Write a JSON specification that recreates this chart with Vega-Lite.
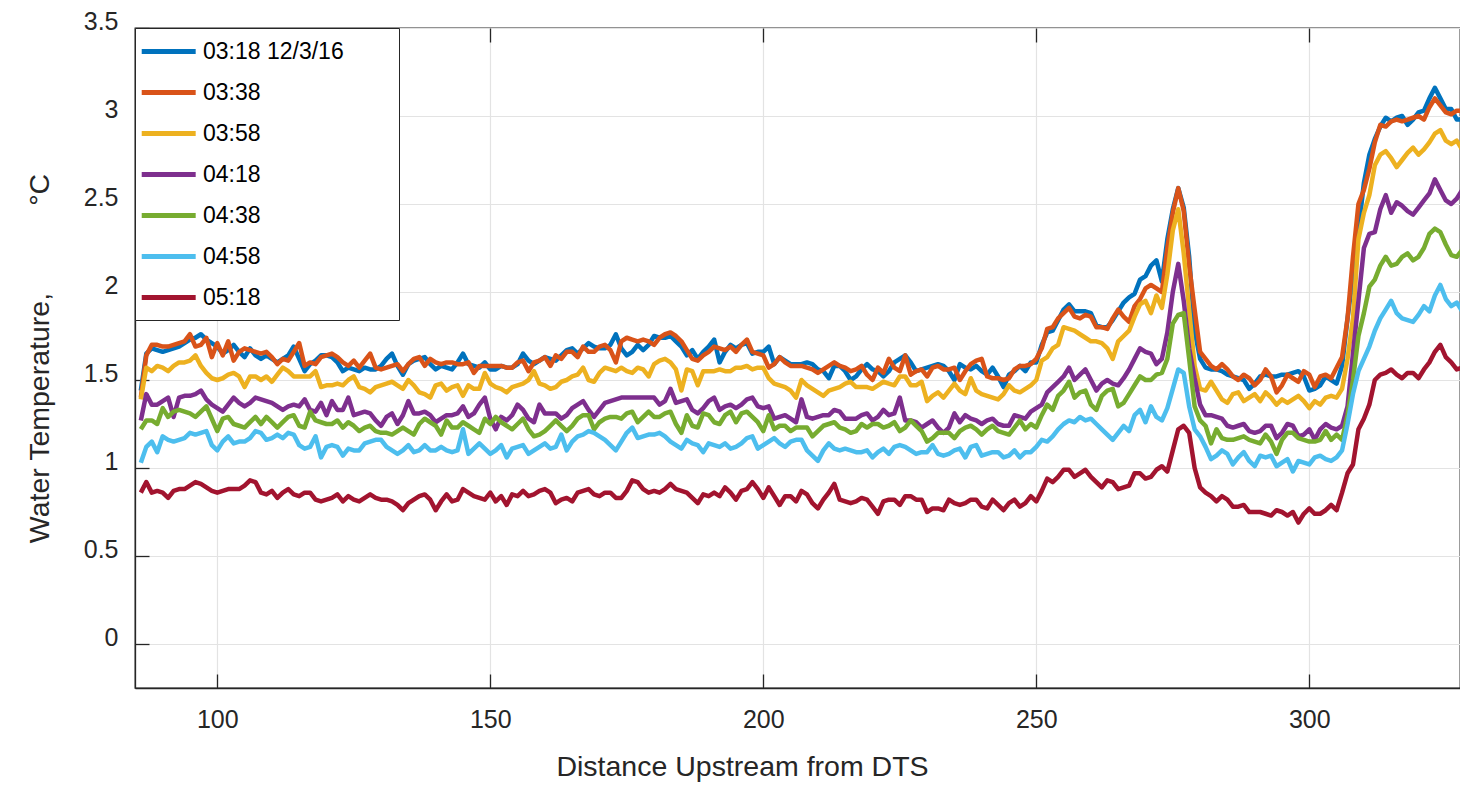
{
"$schema":"https://vega.github.io/schema/vega-lite/v6.json",
"width":1325,"height":660,
"autosize":{"type":"none"},
"padding":{"left":135,"top":28,"right":0,"bottom":97},
"background":"white",
"config":{
 "font":"Liberation Sans",
 "view":{"stroke":"#262626","strokeWidth":1.3},
 "axis":{"domainColor":"#262626","domainWidth":1.3,"tickColor":"#262626","tickWidth":1.3,"labelColor":"#262626","labelFont":"Liberation Sans","labelFontSize":25,"titleFont":"Liberation Sans","titleFontSize":28.5,"titleFontWeight":"normal","titleColor":"#262626","gridColor":"#e3e3e3","gridWidth":1.2}
},
"data":{"values":[
{"x":86,"a":1.44,"b":1.40,"c":1.39,"d":1.27,"e":1.22,"f":1.03,"g":0.86},
{"x":87,"a":1.65,"b":1.64,"c":1.57,"d":1.42,"e":1.27,"f":1.12,"g":0.92},
{"x":88,"a":1.68,"b":1.70,"c":1.55,"d":1.36,"e":1.27,"f":1.15,"g":0.86},
{"x":89,"a":1.67,"b":1.70,"c":1.58,"d":1.36,"e":1.25,"f":1.09,"g":0.87},
{"x":90,"a":1.66,"b":1.69,"c":1.57,"d":1.38,"e":1.34,"f":1.18,"g":0.86},
{"x":91,"a":1.67,"b":1.69,"c":1.55,"d":1.40,"e":1.29,"f":1.16,"g":0.83},
{"x":92,"a":1.68,"b":1.70,"c":1.58,"d":1.29,"e":1.32,"f":1.15,"g":0.87},
{"x":93,"a":1.69,"b":1.71,"c":1.60,"d":1.40,"e":1.33,"f":1.16,"g":0.88},
{"x":94,"a":1.71,"b":1.72,"c":1.60,"d":1.41,"e":1.32,"f":1.17,"g":0.88},
{"x":95,"a":1.73,"b":1.76,"c":1.61,"d":1.41,"e":1.31,"f":1.20,"g":0.90},
{"x":96,"a":1.74,"b":1.69,"c":1.64,"d":1.42,"e":1.29,"f":1.19,"g":0.92},
{"x":97,"a":1.76,"b":1.70,"c":1.58,"d":1.44,"e":1.32,"f":1.20,"g":0.91},
{"x":98,"a":1.73,"b":1.74,"c":1.54,"d":1.39,"e":1.35,"f":1.21,"g":0.89},
{"x":99,"a":1.71,"b":1.63,"c":1.51,"d":1.36,"e":1.28,"f":1.13,"g":0.87},
{"x":100,"a":1.69,"b":1.71,"c":1.50,"d":1.34,"e":1.21,"f":1.10,"g":0.86},
{"x":101,"a":1.65,"b":1.64,"c":1.51,"d":1.32,"e":1.28,"f":1.15,"g":0.87},
{"x":102,"a":1.67,"b":1.72,"c":1.53,"d":1.36,"e":1.29,"f":1.18,"g":0.88},
{"x":103,"a":1.70,"b":1.61,"c":1.54,"d":1.40,"e":1.25,"f":1.14,"g":0.88},
{"x":104,"a":1.66,"b":1.66,"c":1.52,"d":1.37,"e":1.24,"f":1.15,"g":0.88},
{"x":105,"a":1.63,"b":1.68,"c":1.46,"d":1.35,"e":1.23,"f":1.15,"g":0.90},
{"x":106,"a":1.68,"b":1.67,"c":1.52,"d":1.37,"e":1.26,"f":1.17,"g":0.93},
{"x":107,"a":1.64,"b":1.66,"c":1.52,"d":1.40,"e":1.29,"f":1.21,"g":0.92},
{"x":108,"a":1.62,"b":1.65,"c":1.50,"d":1.39,"e":1.25,"f":1.20,"g":0.86},
{"x":109,"a":1.64,"b":1.66,"c":1.52,"d":1.38,"e":1.29,"f":1.16,"g":0.85},
{"x":110,"a":1.62,"b":1.63,"c":1.49,"d":1.37,"e":1.26,"f":1.17,"g":0.87},
{"x":111,"a":1.60,"b":1.59,"c":1.53,"d":1.35,"e":1.23,"f":1.19,"g":0.83},
{"x":112,"a":1.62,"b":1.62,"c":1.57,"d":1.33,"e":1.26,"f":1.17,"g":0.86},
{"x":113,"a":1.64,"b":1.61,"c":1.55,"d":1.35,"e":1.29,"f":1.20,"g":0.88},
{"x":114,"a":1.69,"b":1.66,"c":1.52,"d":1.36,"e":1.30,"f":1.19,"g":0.85},
{"x":115,"a":1.62,"b":1.71,"c":1.52,"d":1.35,"e":1.24,"f":1.13,"g":0.84},
{"x":116,"a":1.55,"b":1.58,"c":1.52,"d":1.39,"e":1.23,"f":1.11,"g":0.86},
{"x":117,"a":1.59,"b":1.60,"c":1.52,"d":1.33,"e":1.32,"f":1.12,"g":0.86},
{"x":118,"a":1.61,"b":1.59,"c":1.55,"d":1.32,"e":1.27,"f":1.18,"g":0.82},
{"x":119,"a":1.64,"b":1.63,"c":1.46,"d":1.37,"e":1.26,"f":1.06,"g":0.81},
{"x":120,"a":1.64,"b":1.64,"c":1.47,"d":1.30,"e":1.25,"f":1.12,"g":0.82},
{"x":121,"a":1.63,"b":1.65,"c":1.47,"d":1.38,"e":1.25,"f":1.13,"g":0.83},
{"x":122,"a":1.60,"b":1.63,"c":1.48,"d":1.33,"e":1.27,"f":1.12,"g":0.85},
{"x":123,"a":1.55,"b":1.60,"c":1.47,"d":1.33,"e":1.23,"f":1.07,"g":0.81},
{"x":124,"a":1.57,"b":1.58,"c":1.50,"d":1.40,"e":1.26,"f":1.11,"g":0.84},
{"x":125,"a":1.56,"b":1.61,"c":1.52,"d":1.30,"e":1.24,"f":1.10,"g":0.82},
{"x":126,"a":1.55,"b":1.57,"c":1.46,"d":1.31,"e":1.21,"f":1.10,"g":0.81},
{"x":127,"a":1.57,"b":1.61,"c":1.45,"d":1.32,"e":1.23,"f":1.14,"g":0.83},
{"x":128,"a":1.56,"b":1.65,"c":1.43,"d":1.31,"e":1.24,"f":1.15,"g":0.85},
{"x":129,"a":1.56,"b":1.57,"c":1.46,"d":1.27,"e":1.21,"f":1.16,"g":0.83},
{"x":130,"a":1.58,"b":1.56,"c":1.47,"d":1.24,"e":1.20,"f":1.16,"g":0.82},
{"x":131,"a":1.62,"b":1.57,"c":1.48,"d":1.29,"e":1.20,"f":1.12,"g":0.82},
{"x":132,"a":1.65,"b":1.58,"c":1.49,"d":1.31,"e":1.19,"f":1.10,"g":0.81},
{"x":133,"a":1.58,"b":1.59,"c":1.47,"d":1.25,"e":1.21,"f":1.08,"g":0.79},
{"x":134,"a":1.53,"b":1.55,"c":1.45,"d":1.30,"e":1.23,"f":1.10,"g":0.76},
{"x":135,"a":1.59,"b":1.59,"c":1.50,"d":1.38,"e":1.21,"f":1.13,"g":0.80},
{"x":136,"a":1.61,"b":1.62,"c":1.47,"d":1.31,"e":1.19,"f":1.09,"g":0.82},
{"x":137,"a":1.62,"b":1.63,"c":1.43,"d":1.31,"e":1.25,"f":1.10,"g":0.84},
{"x":138,"a":1.63,"b":1.58,"c":1.42,"d":1.32,"e":1.28,"f":1.13,"g":0.85},
{"x":139,"a":1.59,"b":1.62,"c":1.40,"d":1.30,"e":1.26,"f":1.10,"g":0.82},
{"x":140,"a":1.56,"b":1.60,"c":1.47,"d":1.26,"e":1.24,"f":1.10,"g":0.76},
{"x":141,"a":1.58,"b":1.59,"c":1.48,"d":1.28,"e":1.19,"f":1.12,"g":0.81},
{"x":142,"a":1.57,"b":1.60,"c":1.44,"d":1.30,"e":1.27,"f":1.10,"g":0.85},
{"x":143,"a":1.56,"b":1.60,"c":1.46,"d":1.30,"e":1.23,"f":1.09,"g":0.81},
{"x":144,"a":1.60,"b":1.59,"c":1.47,"d":1.31,"e":1.23,"f":1.10,"g":0.82},
{"x":145,"a":1.65,"b":1.59,"c":1.41,"d":1.35,"e":1.26,"f":1.22,"g":0.88},
{"x":146,"a":1.59,"b":1.60,"c":1.47,"d":1.29,"e":1.24,"f":1.08,"g":0.86},
{"x":147,"a":1.58,"b":1.54,"c":1.45,"d":1.31,"e":1.22,"f":1.11,"g":0.84},
{"x":148,"a":1.57,"b":1.58,"c":1.45,"d":1.36,"e":1.20,"f":1.14,"g":0.83},
{"x":149,"a":1.60,"b":1.58,"c":1.54,"d":1.40,"e":1.28,"f":1.11,"g":0.82},
{"x":150,"a":1.56,"b":1.58,"c":1.48,"d":1.28,"e":1.25,"f":1.08,"g":0.86},
{"x":151,"a":1.56,"b":1.58,"c":1.46,"d":1.22,"e":1.29,"f":1.10,"g":0.81},
{"x":152,"a":1.58,"b":1.58,"c":1.45,"d":1.29,"e":1.26,"f":1.13,"g":0.84},
{"x":153,"a":1.57,"b":1.57,"c":1.43,"d":1.27,"e":1.24,"f":1.06,"g":0.79},
{"x":154,"a":1.57,"b":1.57,"c":1.46,"d":1.30,"e":1.22,"f":1.11,"g":0.85},
{"x":155,"a":1.59,"b":1.60,"c":1.47,"d":1.36,"e":1.25,"f":1.12,"g":0.84},
{"x":156,"a":1.65,"b":1.61,"c":1.48,"d":1.33,"e":1.28,"f":1.13,"g":0.87},
{"x":157,"a":1.61,"b":1.55,"c":1.50,"d":1.28,"e":1.22,"f":1.08,"g":0.84},
{"x":158,"a":1.59,"b":1.60,"c":1.55,"d":1.26,"e":1.18,"f":1.10,"g":0.85},
{"x":159,"a":1.61,"b":1.61,"c":1.48,"d":1.36,"e":1.19,"f":1.12,"g":0.87},
{"x":160,"a":1.63,"b":1.63,"c":1.47,"d":1.31,"e":1.21,"f":1.14,"g":0.88},
{"x":161,"a":1.62,"b":1.58,"c":1.45,"d":1.31,"e":1.24,"f":1.11,"g":0.86},
{"x":162,"a":1.61,"b":1.64,"c":1.46,"d":1.31,"e":1.27,"f":1.12,"g":0.80},
{"x":163,"a":1.64,"b":1.62,"c":1.49,"d":1.28,"e":1.24,"f":1.19,"g":0.82},
{"x":164,"a":1.67,"b":1.66,"c":1.50,"d":1.30,"e":1.21,"f":1.10,"g":0.83},
{"x":165,"a":1.68,"b":1.66,"c":1.52,"d":1.34,"e":1.24,"f":1.15,"g":0.81},
{"x":166,"a":1.65,"b":1.63,"c":1.53,"d":1.36,"e":1.28,"f":1.18,"g":0.86},
{"x":167,"a":1.68,"b":1.69,"c":1.57,"d":1.38,"e":1.30,"f":1.19,"g":0.87},
{"x":168,"a":1.71,"b":1.66,"c":1.50,"d":1.33,"e":1.30,"f":1.21,"g":0.88},
{"x":169,"a":1.69,"b":1.66,"c":1.49,"d":1.29,"e":1.22,"f":1.20,"g":0.85},
{"x":170,"a":1.68,"b":1.69,"c":1.54,"d":1.33,"e":1.26,"f":1.18,"g":0.84},
{"x":171,"a":1.68,"b":1.70,"c":1.57,"d":1.37,"e":1.28,"f":1.16,"g":0.86},
{"x":172,"a":1.70,"b":1.67,"c":1.56,"d":1.38,"e":1.29,"f":1.13,"g":0.86},
{"x":173,"a":1.76,"b":1.60,"c":1.55,"d":1.39,"e":1.29,"f":1.10,"g":0.83},
{"x":174,"a":1.68,"b":1.72,"c":1.57,"d":1.40,"e":1.28,"f":1.15,"g":0.83},
{"x":175,"a":1.64,"b":1.74,"c":1.55,"d":1.40,"e":1.31,"f":1.20,"g":0.87},
{"x":176,"a":1.66,"b":1.73,"c":1.54,"d":1.40,"e":1.32,"f":1.23,"g":0.93},
{"x":177,"a":1.70,"b":1.72,"c":1.57,"d":1.40,"e":1.26,"f":1.17,"g":0.92},
{"x":178,"a":1.67,"b":1.73,"c":1.56,"d":1.40,"e":1.29,"f":1.18,"g":0.88},
{"x":179,"a":1.70,"b":1.72,"c":1.52,"d":1.40,"e":1.32,"f":1.19,"g":0.86},
{"x":180,"a":1.75,"b":1.70,"c":1.59,"d":1.40,"e":1.29,"f":1.19,"g":0.87},
{"x":181,"a":1.74,"b":1.74,"c":1.61,"d":1.36,"e":1.29,"f":1.20,"g":0.86},
{"x":182,"a":1.74,"b":1.76,"c":1.62,"d":1.38,"e":1.31,"f":1.18,"g":0.88},
{"x":183,"a":1.75,"b":1.77,"c":1.60,"d":1.45,"e":1.32,"f":1.15,"g":0.91},
{"x":184,"a":1.72,"b":1.75,"c":1.56,"d":1.37,"e":1.25,"f":1.13,"g":0.88},
{"x":185,"a":1.69,"b":1.72,"c":1.44,"d":1.38,"e":1.20,"f":1.11,"g":0.87},
{"x":186,"a":1.64,"b":1.67,"c":1.56,"d":1.39,"e":1.30,"f":1.16,"g":0.86},
{"x":187,"a":1.67,"b":1.62,"c":1.55,"d":1.33,"e":1.24,"f":1.14,"g":0.83},
{"x":188,"a":1.62,"b":1.61,"c":1.47,"d":1.31,"e":1.23,"f":1.13,"g":0.80},
{"x":189,"a":1.66,"b":1.64,"c":1.55,"d":1.34,"e":1.31,"f":1.09,"g":0.85},
{"x":190,"a":1.69,"b":1.66,"c":1.55,"d":1.38,"e":1.30,"f":1.14,"g":0.84},
{"x":191,"a":1.73,"b":1.69,"c":1.55,"d":1.40,"e":1.26,"f":1.13,"g":0.86},
{"x":192,"a":1.60,"b":1.68,"c":1.56,"d":1.33,"e":1.25,"f":1.12,"g":0.84},
{"x":193,"a":1.66,"b":1.67,"c":1.55,"d":1.35,"e":1.30,"f":1.14,"g":0.89},
{"x":194,"a":1.70,"b":1.69,"c":1.55,"d":1.36,"e":1.32,"f":1.11,"g":0.86},
{"x":195,"a":1.68,"b":1.66,"c":1.57,"d":1.34,"e":1.26,"f":1.12,"g":0.82},
{"x":196,"a":1.70,"b":1.70,"c":1.57,"d":1.36,"e":1.31,"f":1.14,"g":0.87},
{"x":197,"a":1.71,"b":1.73,"c":1.58,"d":1.39,"e":1.32,"f":1.17,"g":0.88},
{"x":198,"a":1.65,"b":1.66,"c":1.56,"d":1.40,"e":1.29,"f":1.18,"g":0.92},
{"x":199,"a":1.66,"b":1.65,"c":1.57,"d":1.35,"e":1.26,"f":1.11,"g":0.88},
{"x":200,"a":1.66,"b":1.64,"c":1.57,"d":1.34,"e":1.21,"f":1.13,"g":0.83},
{"x":201,"a":1.69,"b":1.57,"c":1.51,"d":1.35,"e":1.30,"f":1.15,"g":0.89},
{"x":202,"a":1.59,"b":1.59,"c":1.48,"d":1.28,"e":1.22,"f":1.17,"g":0.84},
{"x":203,"a":1.63,"b":1.63,"c":1.47,"d":1.29,"e":1.24,"f":1.14,"g":0.79},
{"x":204,"a":1.61,"b":1.60,"c":1.46,"d":1.30,"e":1.24,"f":1.12,"g":0.84},
{"x":205,"a":1.59,"b":1.58,"c":1.44,"d":1.28,"e":1.21,"f":1.15,"g":0.84},
{"x":206,"a":1.59,"b":1.58,"c":1.40,"d":1.26,"e":1.23,"f":1.16,"g":0.81},
{"x":207,"a":1.59,"b":1.58,"c":1.50,"d":1.39,"e":1.23,"f":1.16,"g":0.87},
{"x":208,"a":1.60,"b":1.57,"c":1.47,"d":1.29,"e":1.23,"f":1.10,"g":0.85},
{"x":209,"a":1.59,"b":1.56,"c":1.45,"d":1.28,"e":1.18,"f":1.07,"g":0.80},
{"x":210,"a":1.56,"b":1.54,"c":1.43,"d":1.29,"e":1.21,"f":1.04,"g":0.77},
{"x":211,"a":1.55,"b":1.56,"c":1.41,"d":1.30,"e":1.24,"f":1.10,"g":0.82},
{"x":212,"a":1.51,"b":1.58,"c":1.44,"d":1.30,"e":1.25,"f":1.14,"g":0.86},
{"x":213,"a":1.58,"b":1.60,"c":1.45,"d":1.33,"e":1.26,"f":1.11,"g":0.91},
{"x":214,"a":1.58,"b":1.58,"c":1.46,"d":1.32,"e":1.23,"f":1.10,"g":0.82},
{"x":215,"a":1.55,"b":1.57,"c":1.48,"d":1.28,"e":1.22,"f":1.11,"g":0.81},
{"x":216,"a":1.50,"b":1.55,"c":1.49,"d":1.28,"e":1.20,"f":1.10,"g":0.80},
{"x":217,"a":1.52,"b":1.56,"c":1.46,"d":1.28,"e":1.21,"f":1.09,"g":0.81},
{"x":218,"a":1.56,"b":1.58,"c":1.46,"d":1.30,"e":1.25,"f":1.09,"g":0.83},
{"x":219,"a":1.59,"b":1.53,"c":1.46,"d":1.31,"e":1.23,"f":1.10,"g":0.82},
{"x":220,"a":1.56,"b":1.50,"c":1.45,"d":1.27,"e":1.25,"f":1.06,"g":0.78},
{"x":221,"a":1.55,"b":1.57,"c":1.47,"d":1.29,"e":1.25,"f":1.09,"g":0.74},
{"x":222,"a":1.52,"b":1.54,"c":1.49,"d":1.33,"e":1.23,"f":1.11,"g":0.81},
{"x":223,"a":1.55,"b":1.62,"c":1.48,"d":1.30,"e":1.24,"f":1.08,"g":0.82},
{"x":224,"a":1.60,"b":1.57,"c":1.47,"d":1.31,"e":1.26,"f":1.12,"g":0.82},
{"x":225,"a":1.62,"b":1.55,"c":1.52,"d":1.40,"e":1.21,"f":1.13,"g":0.79},
{"x":226,"a":1.64,"b":1.64,"c":1.52,"d":1.27,"e":1.23,"f":1.12,"g":0.84},
{"x":227,"a":1.60,"b":1.53,"c":1.47,"d":1.27,"e":1.27,"f":1.10,"g":0.84},
{"x":228,"a":1.55,"b":1.55,"c":1.47,"d":1.26,"e":1.24,"f":1.08,"g":0.82},
{"x":229,"a":1.56,"b":1.56,"c":1.49,"d":1.23,"e":1.21,"f":1.09,"g":0.82},
{"x":230,"a":1.57,"b":1.52,"c":1.38,"d":1.25,"e":1.15,"f":1.09,"g":0.75},
{"x":231,"a":1.58,"b":1.57,"c":1.41,"d":1.27,"e":1.17,"f":1.13,"g":0.77},
{"x":232,"a":1.59,"b":1.58,"c":1.43,"d":1.23,"e":1.20,"f":1.08,"g":0.77},
{"x":233,"a":1.58,"b":1.56,"c":1.40,"d":1.20,"e":1.20,"f":1.07,"g":0.76},
{"x":234,"a":1.55,"b":1.56,"c":1.44,"d":1.23,"e":1.20,"f":1.08,"g":0.82},
{"x":235,"a":1.50,"b":1.57,"c":1.48,"d":1.31,"e":1.17,"f":1.10,"g":0.80},
{"x":236,"a":1.59,"b":1.50,"c":1.44,"d":1.26,"e":1.21,"f":1.11,"g":0.79},
{"x":237,"a":1.57,"b":1.55,"c":1.42,"d":1.30,"e":1.23,"f":1.06,"g":0.80},
{"x":238,"a":1.56,"b":1.59,"c":1.51,"d":1.28,"e":1.24,"f":1.12,"g":0.82},
{"x":239,"a":1.58,"b":1.61,"c":1.44,"d":1.27,"e":1.22,"f":1.13,"g":0.82},
{"x":240,"a":1.55,"b":1.62,"c":1.42,"d":1.25,"e":1.19,"f":1.07,"g":0.78},
{"x":241,"a":1.53,"b":1.52,"c":1.41,"d":1.27,"e":1.22,"f":1.08,"g":0.77},
{"x":242,"a":1.57,"b":1.51,"c":1.40,"d":1.28,"e":1.24,"f":1.09,"g":0.82},
{"x":243,"a":1.52,"b":1.51,"c":1.39,"d":1.25,"e":1.21,"f":1.09,"g":0.79},
{"x":244,"a":1.46,"b":1.50,"c":1.42,"d":1.24,"e":1.20,"f":1.06,"g":0.76},
{"x":245,"a":1.53,"b":1.51,"c":1.47,"d":1.24,"e":1.19,"f":1.07,"g":0.80},
{"x":246,"a":1.55,"b":1.56,"c":1.44,"d":1.30,"e":1.23,"f":1.10,"g":0.82},
{"x":247,"a":1.58,"b":1.58,"c":1.43,"d":1.29,"e":1.27,"f":1.06,"g":0.78},
{"x":248,"a":1.55,"b":1.58,"c":1.45,"d":1.28,"e":1.22,"f":1.09,"g":0.80},
{"x":249,"a":1.60,"b":1.59,"c":1.47,"d":1.32,"e":1.25,"f":1.09,"g":0.84},
{"x":250,"a":1.60,"b":1.62,"c":1.50,"d":1.34,"e":1.23,"f":1.12,"g":0.81},
{"x":251,"a":1.70,"b":1.68,"c":1.61,"d":1.36,"e":1.30,"f":1.16,"g":0.87},
{"x":252,"a":1.77,"b":1.79,"c":1.63,"d":1.43,"e":1.36,"f":1.15,"g":0.94},
{"x":253,"a":1.78,"b":1.80,"c":1.68,"d":1.46,"e":1.33,"f":1.18,"g":0.92},
{"x":254,"a":1.84,"b":1.85,"c":1.70,"d":1.49,"e":1.41,"f":1.22,"g":0.95},
{"x":255,"a":1.90,"b":1.88,"c":1.80,"d":1.52,"e":1.44,"f":1.25,"g":0.99},
{"x":256,"a":1.93,"b":1.91,"c":1.79,"d":1.57,"e":1.49,"f":1.27,"g":0.99},
{"x":257,"a":1.89,"b":1.86,"c":1.78,"d":1.50,"e":1.40,"f":1.26,"g":0.95},
{"x":258,"a":1.89,"b":1.85,"c":1.76,"d":1.53,"e":1.43,"f":1.29,"g":0.97},
{"x":259,"a":1.89,"b":1.87,"c":1.74,"d":1.56,"e":1.44,"f":1.27,"g":0.99},
{"x":260,"a":1.88,"b":1.86,"c":1.72,"d":1.50,"e":1.36,"f":1.28,"g":0.95},
{"x":261,"a":1.81,"b":1.80,"c":1.72,"d":1.44,"e":1.33,"f":1.25,"g":0.92},
{"x":262,"a":1.80,"b":1.80,"c":1.71,"d":1.48,"e":1.41,"f":1.22,"g":0.89},
{"x":263,"a":1.80,"b":1.79,"c":1.68,"d":1.50,"e":1.44,"f":1.19,"g":0.93},
{"x":264,"a":1.84,"b":1.85,"c":1.62,"d":1.48,"e":1.45,"f":1.16,"g":0.92},
{"x":265,"a":1.89,"b":1.90,"c":1.72,"d":1.47,"e":1.35,"f":1.20,"g":0.88},
{"x":266,"a":1.94,"b":1.86,"c":1.75,"d":1.51,"e":1.37,"f":1.24,"g":0.89},
{"x":267,"a":1.97,"b":1.83,"c":1.78,"d":1.56,"e":1.42,"f":1.21,"g":0.90},
{"x":268,"a":1.99,"b":1.92,"c":1.86,"d":1.62,"e":1.47,"f":1.30,"g":0.97},
{"x":269,"a":2.07,"b":1.96,"c":1.93,"d":1.68,"e":1.52,"f":1.33,"g":0.97},
{"x":270,"a":2.09,"b":2.02,"c":1.95,"d":1.66,"e":1.50,"f":1.26,"g":0.94},
{"x":271,"a":2.15,"b":2.04,"c":1.88,"d":1.65,"e":1.50,"f":1.35,"g":0.95},
{"x":272,"a":2.18,"b":2.02,"c":1.98,"d":1.59,"e":1.53,"f":1.29,"g":0.99},
{"x":273,"a":2.06,"b":2.00,"c":1.91,"d":1.62,"e":1.54,"f":1.27,"g":1.01},
{"x":274,"a":2.30,"b":2.25,"c":2.10,"d":1.77,"e":1.62,"f":1.34,"g":0.98},
{"x":275,"a":2.47,"b":2.45,"c":2.35,"d":2.00,"e":1.82,"f":1.45,"g":1.10},
{"x":276,"a":2.59,"b":2.59,"c":2.47,"d":2.16,"e":1.87,"f":1.56,"g":1.22},
{"x":277,"a":2.48,"b":2.46,"c":2.22,"d":1.95,"e":1.88,"f":1.54,"g":1.24},
{"x":278,"a":2.20,"b":2.15,"c":1.90,"d":1.68,"e":1.62,"f":1.35,"g":1.20},
{"x":279,"a":1.78,"b":1.90,"c":1.58,"d":1.51,"e":1.35,"f":1.22,"g":1.00},
{"x":280,"a":1.62,"b":1.66,"c":1.45,"d":1.36,"e":1.27,"f":1.18,"g":0.89},
{"x":281,"a":1.57,"b":1.62,"c":1.44,"d":1.30,"e":1.24,"f":1.12,"g":0.86},
{"x":282,"a":1.56,"b":1.58,"c":1.49,"d":1.30,"e":1.14,"f":1.05,"g":0.84},
{"x":283,"a":1.56,"b":1.56,"c":1.44,"d":1.29,"e":1.22,"f":1.07,"g":0.81},
{"x":284,"a":1.55,"b":1.59,"c":1.39,"d":1.28,"e":1.17,"f":1.10,"g":0.84},
{"x":285,"a":1.53,"b":1.56,"c":1.37,"d":1.24,"e":1.16,"f":1.08,"g":0.82},
{"x":286,"a":1.52,"b":1.52,"c":1.42,"d":1.23,"e":1.16,"f":1.02,"g":0.78},
{"x":287,"a":1.51,"b":1.50,"c":1.43,"d":1.24,"e":1.17,"f":1.06,"g":0.78},
{"x":288,"a":1.50,"b":1.53,"c":1.38,"d":1.25,"e":1.18,"f":1.09,"g":0.79},
{"x":289,"a":1.45,"b":1.51,"c":1.40,"d":1.21,"e":1.16,"f":1.04,"g":0.75},
{"x":290,"a":1.48,"b":1.47,"c":1.42,"d":1.20,"e":1.15,"f":1.01,"g":0.75},
{"x":291,"a":1.52,"b":1.50,"c":1.38,"d":1.21,"e":1.14,"f":1.07,"g":0.75},
{"x":292,"a":1.53,"b":1.56,"c":1.43,"d":1.24,"e":1.19,"f":1.06,"g":0.74},
{"x":293,"a":1.52,"b":1.52,"c":1.40,"d":1.24,"e":1.15,"f":1.07,"g":0.73},
{"x":294,"a":1.52,"b":1.43,"c":1.36,"d":1.17,"e":1.08,"f":1.01,"g":0.76},
{"x":295,"a":1.53,"b":1.47,"c":1.39,"d":1.20,"e":1.16,"f":1.03,"g":0.75},
{"x":296,"a":1.53,"b":1.53,"c":1.37,"d":1.25,"e":1.20,"f":1.05,"g":0.73},
{"x":297,"a":1.54,"b":1.51,"c":1.39,"d":1.24,"e":1.20,"f":0.98,"g":0.75},
{"x":298,"a":1.55,"b":1.49,"c":1.41,"d":1.18,"e":1.17,"f":1.04,"g":0.69},
{"x":299,"a":1.52,"b":1.55,"c":1.38,"d":1.19,"e":1.16,"f":1.03,"g":0.74},
{"x":300,"a":1.44,"b":1.53,"c":1.34,"d":1.22,"e":1.15,"f":1.02,"g":0.77},
{"x":301,"a":1.45,"b":1.46,"c":1.38,"d":1.16,"e":1.15,"f":1.06,"g":0.74},
{"x":302,"a":1.47,"b":1.52,"c":1.36,"d":1.22,"e":1.16,"f":1.07,"g":0.74},
{"x":303,"a":1.52,"b":1.53,"c":1.40,"d":1.25,"e":1.21,"f":1.05,"g":0.76},
{"x":304,"a":1.50,"b":1.51,"c":1.41,"d":1.23,"e":1.16,"f":1.04,"g":0.79},
{"x":305,"a":1.48,"b":1.57,"c":1.40,"d":1.22,"e":1.19,"f":1.06,"g":0.76},
{"x":306,"a":1.58,"b":1.63,"c":1.45,"d":1.24,"e":1.16,"f":1.10,"g":0.86},
{"x":307,"a":1.85,"b":1.85,"c":1.62,"d":1.35,"e":1.30,"f":1.25,"g":0.97},
{"x":308,"a":2.09,"b":2.20,"c":1.85,"d":1.65,"e":1.50,"f":1.42,"g":1.02},
{"x":309,"a":2.35,"b":2.50,"c":2.30,"d":1.95,"e":1.75,"f":1.55,"g":1.22},
{"x":310,"a":2.62,"b":2.58,"c":2.45,"d":2.25,"e":1.88,"f":1.62,"g":1.28},
{"x":311,"a":2.78,"b":2.70,"c":2.55,"d":2.33,"e":2.03,"f":1.69,"g":1.36},
{"x":312,"a":2.87,"b":2.85,"c":2.72,"d":2.34,"e":2.07,"f":1.78,"g":1.50},
{"x":313,"a":2.94,"b":2.95,"c":2.78,"d":2.47,"e":2.15,"f":1.85,"g":1.53},
{"x":314,"a":2.99,"b":2.94,"c":2.80,"d":2.55,"e":2.20,"f":1.90,"g":1.54},
{"x":315,"a":2.97,"b":2.97,"c":2.76,"d":2.45,"e":2.15,"f":1.95,"g":1.56},
{"x":316,"a":2.99,"b":2.98,"c":2.71,"d":2.51,"e":2.16,"f":1.88,"g":1.53},
{"x":317,"a":3.00,"b":2.97,"c":2.75,"d":2.49,"e":2.20,"f":1.85,"g":1.51},
{"x":318,"a":2.95,"b":2.98,"c":2.79,"d":2.46,"e":2.22,"f":1.84,"g":1.54},
{"x":319,"a":2.98,"b":2.99,"c":2.82,"d":2.44,"e":2.18,"f":1.83,"g":1.54},
{"x":320,"a":3.02,"b":3.00,"c":2.78,"d":2.48,"e":2.20,"f":1.87,"g":1.51},
{"x":321,"a":3.03,"b":2.98,"c":2.81,"d":2.52,"e":2.25,"f":1.92,"g":1.56},
{"x":322,"a":3.10,"b":3.05,"c":2.85,"d":2.56,"e":2.33,"f":1.89,"g":1.60},
{"x":323,"a":3.16,"b":3.10,"c":2.90,"d":2.64,"e":2.36,"f":1.98,"g":1.66},
{"x":324,"a":3.10,"b":3.06,"c":2.92,"d":2.58,"e":2.34,"f":2.04,"g":1.70},
{"x":325,"a":3.04,"b":3.02,"c":2.86,"d":2.52,"e":2.27,"f":1.96,"g":1.63},
{"x":326,"a":3.04,"b":3.01,"c":2.84,"d":2.50,"e":2.21,"f":1.92,"g":1.60},
{"x":327,"a":2.98,"b":3.03,"c":2.86,"d":2.53,"e":2.20,"f":1.94,"g":1.56},
{"x":328,"a":2.98,"b":3.03,"c":2.81,"d":2.58,"e":2.24,"f":1.89,"g":1.57}
]},
"transform":[{"fold":["a","b","c","d","e","f","g"],"as":["k","t"]}],
"encoding":{
 "y":{"field":"t","type":"quantitative","scale":{"domain":[-0.25,3.5],"nice":false,"zero":false},
  "axis":{"values":[0,0.5,1,1.5,2,2.5,3,3.5],"format":"~g","title":"Water Temperature,\u00a0\u00a0\u00a0\u00a0\u00a0\u00a0\u00a0\u00a0\u00a0\u00a0\u00a0°C","tickSize":-14,"labelPadding":31,"labelOffset":-7,"titlePadding":29,"grid":true}}
},
"layer":[
 {"mark":{"type":"line","opacity":0,"clip":true},
  "encoding":{"x":{"field":"x","type":"quantitative","scale":{"domain":[84.93,327.6],"nice":false,"zero":false},
   "axis":{"orient":"top","values":[100,150,200,250,300],"labels":false,"title":null,"grid":false,"domain":false,"tickSize":-14}},
   "detail":{"field":"k"}}},
 {"mark":{"type":"line","strokeWidth":4.5,"clip":true,"strokeJoin":"round"},
  "encoding":{"x":{"field":"x","type":"quantitative","scale":{"domain":[84.93,327.6],"nice":false,"zero":false},
   "axis":{"orient":"bottom","values":[100,150,200,250,300],"title":"Distance Upstream from DTS","titleX":607,"titleAlign":"center","tickSize":-14,"labelPadding":33,"titlePadding":20,"grid":true}},
   "color":{"field":"k","type":"nominal","scale":{"domain":["a","b","c","d","e","f","g"],"range":["#0072BD","#D95319","#EDB120","#7E2F8E","#77AC30","#4DBEEE","#A2142F"]},
    "legend":{"orient":"top-left","offset":0,"title":null,"padding":10,"strokeColor":"#262626","fillColor":"white","labelFont":"Liberation Sans","labelFontSize":23,"labelColor":"black","labelLimit":500,"symbolType":"M-1.555,0H3.445","symbolSize":466,"symbolStrokeWidth":5,"rowPadding":15,"labelOffset":31,
     "labelExpr":"datum.value=='a'?'03:18 12/3/16\u00a0\u00a0\u00a0\u00a0\u00a0\u00a0\u00a0\u200b':datum.value=='b'?'03:38':datum.value=='c'?'03:58':datum.value=='d'?'04:18':datum.value=='e'?'04:38':datum.value=='f'?'04:58':'05:18'"}}}}
],
"resolve":{"axis":{"x":"independent"}}
}
